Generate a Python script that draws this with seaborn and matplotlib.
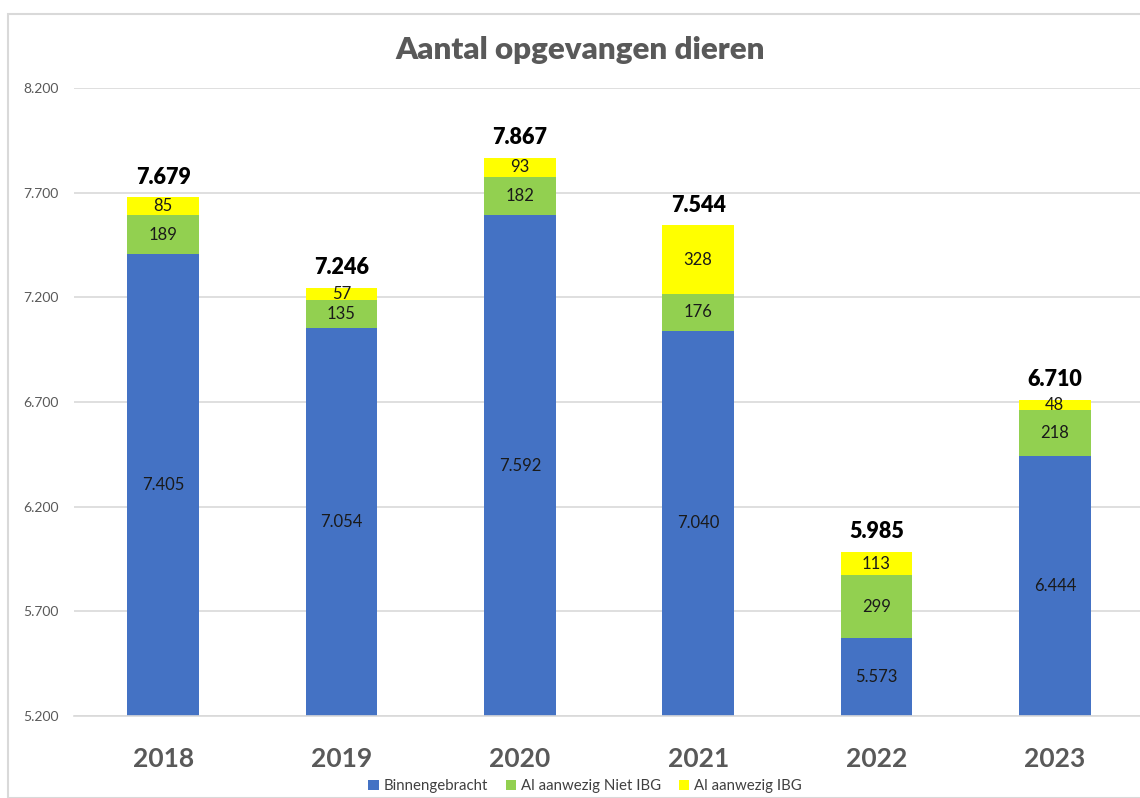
import matplotlib
matplotlib.use("Agg")
import matplotlib.pyplot as plt
import seaborn as sns
import pandas as pd
from matplotlib.patches import Patch, Rectangle

years = ["2018", "2019", "2020", "2021", "2022", "2023"]
binnengebracht = [7405, 7054, 7592, 7040, 5573, 6444]
niet_ibg = [189, 135, 182, 176, 299, 218]
ibg = [85, 57, 93, 328, 113, 48]
y_ticks = [5200, 5700, 6200, 6700, 7200, 7700, 8200]

series_names = ["Binnengebracht", "Al aanwezig Niet IBG", "Al aanwezig IBG"]
colors = ["#4472C4", "#92D050", "#FFFF00"]

sns.set_theme(style="white")
plt.rcParams["font.family"] = ["Lato", "DejaVu Sans"]

def nl(v):
    return f"{v:,}".replace(",", ".")

df = pd.DataFrame({"year": years, "b": binnengebracht, "n": niet_ibg, "i": ibg})
df["bn"] = df["b"] + df["n"]
df["total"] = df["bn"] + df["i"]

W, H = 1140, 798
fig = plt.figure(figsize=(W / 100, H / 100), dpi=100)
ax = fig.add_axes([74 / W, (H - 716) / H, 1070 / W, (716 - 88) / H])

bw = 0.40
for col, c in zip(["total", "bn", "b"], colors[::-1]):
    sns.barplot(data=df, x="year", y=col, color=c, width=bw, ax=ax,
                saturation=1, linewidth=0, zorder=2)

ymin, ymax = 5200, 8200
ax.set_ylim(ymin, ymax)
ax.set_xlim(-0.5, 5.5)
ax.set_yticks(y_ticks)
ax.set_yticklabels([nl(v) for v in y_ticks], color="#595959", fontsize=10)
ax.yaxis.grid(True, color="#D9D9D9", linewidth=1.2, zorder=0)
ax.set_axisbelow(True)
ax.tick_params(axis="y", length=0, pad=11)

ax.set_xticks(range(len(years)))
ax.set_xticklabels(years, fontsize=19, fontweight="bold", color="#595959")
ax.tick_params(axis="x", length=0, pad=22)
ax.set_xticks([x - 0.5 for x in range(len(years) + 1)], minor=True)
ax.tick_params(axis="x", which="minor", length=7, width=1.2, color="#D9D9D9", direction="out")
ax.set_xlabel("")
ax.set_ylabel("")

for s in ["top", "right", "left"]:
    ax.spines[s].set_visible(False)
ax.spines["bottom"].set_color("#D9D9D9")
ax.spines["bottom"].set_linewidth(1.2)

for i in range(len(years)):
    b, n, g = binnengebracht[i], niet_ibg[i], ibg[i]
    ax.text(i, (ymin + b) / 2, nl(b), ha="center", va="center", fontsize=12, color="#1a1a1a")
    ax.text(i, b + n / 2, nl(n), ha="center", va="center", fontsize=12, color="#1a1a1a")
    ax.text(i, b + n + g / 2, nl(g), ha="center", va="center", fontsize=12, color="#1a1a1a")
    tot = b + n + g
    ax.annotate(nl(tot), (i, tot), xytext=(0, 20), textcoords="offset pixels",
                ha="center", va="center", fontsize=15.5, fontweight="heavy", color="black")

fig.text(580 / W, 1 - 50 / H, "Aantal opgevangen dieren", ha="center", va="center",
         fontsize=22.5, fontweight="heavy", color="#595959")

handles = [Patch(facecolor=c, edgecolor="none", label=l) for c, l in zip(colors, series_names)]
fig.legend(handles=handles, loc="center", bbox_to_anchor=(585 / W, 1 - 786 / H), ncol=3,
           frameon=False, fontsize=10.8, handlelength=0.7, handleheight=0.7,
           handletextpad=0.3, columnspacing=1.2, labelcolor="#404040")

fig.patches.append(Rectangle((8 / W, 0.0), 1.2, 1 - 14 / H, transform=fig.transFigure,
                             fill=False, edgecolor="#D9D9D9", linewidth=1.5))

fig.savefig("out.png", dpi=100, facecolor="white")
